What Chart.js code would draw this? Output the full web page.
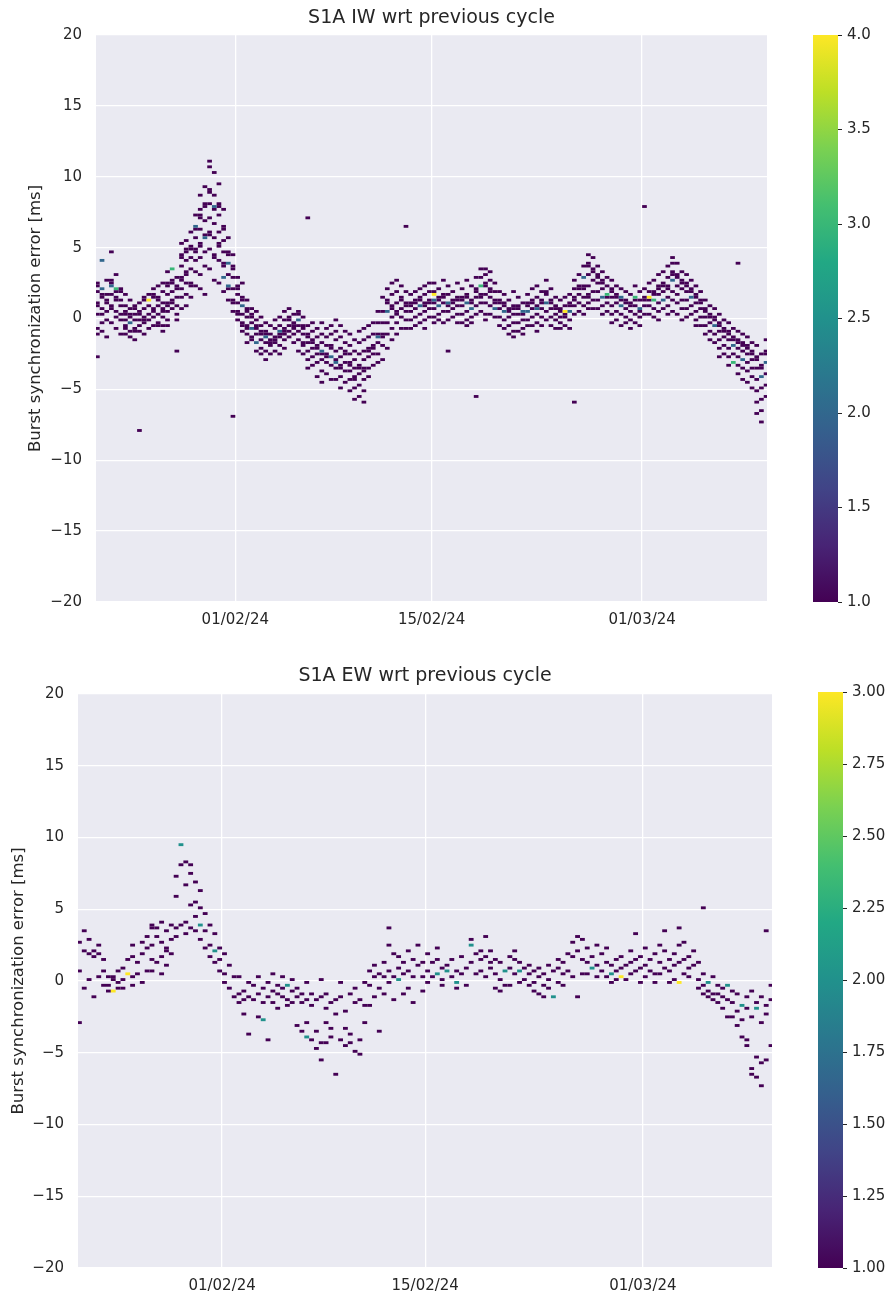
<!DOCTYPE html>
<html>
<head>
<meta charset="utf-8">
<script src="https://cdn.jsdelivr.net/npm/chart.js@4.4.1/dist/chart.umd.min.js"></script>
<style>
    body { margin: 0; background: #ffffff; width: 893px; height: 1297px; position: relative; overflow: hidden; }
    canvas { position: absolute; }
</style>
</head>
<body>
<canvas id="iw-canvas" width="800" height="650" style="left:0;top:0"></canvas>
<canvas id="iw-bar" width="93" height="650" style="left:800px;top:0"></canvas>
<canvas id="ew-canvas" width="800" height="647" style="left:0;top:650px"></canvas>
<canvas id="ew-bar" width="93" height="647" style="left:800px;top:650px"></canvas>
<script>
// x axis: days counted from 01/02/24
const dayTicks = [0, 14, 29]
const dayTickLabels = ["01/02/24", "15/02/24", "01/03/24"]
const dayMin = -9.93
const dayMax = 37.9
// three passes a day (fraction of the day)
const passOffsets = [0.17, 0.5, 0.83]
const binDays = 1 / 3
const binMs = 0.2
const errorTicks = [-20, -15, -10, -5, 0, 5, 10, 15, 20]

// IW: one row per day starting at day -10, three passes per row, values in ms
const iwFirstDay = -10
const iwErrors = [
    [[2.4,2.2,1.8,1.0,0.8,0.2,-0.8,-1.2,-2.8],[4.0,4.0,2.0,2.0,1.6,1.4,0.6,0.2,-0.4,-1.0],[2.6,1.6,1.2,1.0,0.4,-0.2,-1.4]],
    [[4.6,2.6,2.4,2.2,2.2,1.6,0.8,0.6,-0.4],[3.0,2.0,2.0,2.0,1.8,1.4,1.2,0.4,0.0,-0.8],[2.0,1.8,1.2,0.8,0.2,-0.2,-1.2]],
    [[1.6,0.8,0.4,0.2,-0.2,-0.6,-0.8,-1.2],[1.2,0.6,0.2,0.0,-0.4,-0.4,-1.0,-1.4],[0.8,0.6,0.2,-0.2,-0.8,-1.0,-1.6]],
    [[1.0,0.4,0.2,-0.2,-0.6,-1.0,-7.9],[1.4,1.2,0.6,0.0,-0.2,-0.4,-1.2],[1.6,1.2,1.2,1.2,1.2,0.8,0.2,-0.2,-0.8]],
    [[2.0,1.6,1.4,0.6,0.4,0.0,-0.6],[2.2,1.4,1.2,0.8,0.2,-0.4,-0.6],[2.4,1.8,1.0,0.6,0.4,0.0,-0.6,-1.0]],
    [[3.2,2.4,2.2,1.6,1.0,0.8,0.4,-0.2,-0.6],[3.4,3.4,3.4,2.6,2.4,1.8,1.2,1.0,0.6],[2.8,2.2,2.0,1.4,0.8,0.2,-0.2,-2.4]],
    [[5.2,4.4,4.2,3.6,2.8,2.6,2.0,1.4,0.6],[5.4,4.8,4.6,4.0,3.2,3.0,2.4,1.6,0.8],[6.0,5.0,4.8,4.2,3.4,2.4,2.2,1.4]],
    [[7.2,6.4,6.4,6.2,5.6,4.8,4.6,4.0,3.2,2.2],[8.6,7.6,7.2,7.0,6.2,5.2,5.0,4.2,3.0,2.0],[9.2,8.0,7.8,6.8,5.8,5.6,5.6,4.6,3.6,1.6]],
    [[11.0,10.6,9.0,8.8,8.0,7.0,6.0,5.8,4.8,3.4],[10.2,8.6,7.8,7.8,7.6,6.6,5.6,4.4,4.2,2.6],[9.4,8.0,7.8,7.2,6.0,5.2,5.0,4.0,2.4]],
    [[7.6,6.4,6.2,5.4,4.6,3.8,3.6,2.8,2.8,1.8],[5.6,4.6,4.4,3.8,3.8,3.0,2.2,2.2,2.0,1.2],[4.4,3.6,3.4,2.8,2.0,1.2,1.0,0.4,-7.0]],
    [[2.8,2.2,2.0,1.6,1.0,0.4,0.2,-0.2],[2.4,1.4,1.2,0.8,0.8,0.2,-0.4,-0.6,-1.0],[1.2,0.6,0.4,0.0,-0.6,-0.8,-1.2,-1.8]],
    [[0.6,0.2,0.0,-0.4,-0.8,-0.8,-1.4,-1.6],[0.4,-0.2,-0.6,-0.8,-1.2,-1.8,-1.8,-2.4],[0.0,-0.6,-1.0,-1.2,-1.6,-2.2,-2.6]],
    [[-0.4,-1.0,-1.2,-1.4,-1.4,-1.8,-2.4,-3.0],[-0.6,-1.2,-1.6,-1.8,-2.0,-2.6],[-0.2,-0.8,-1.4,-1.6,-1.8,-2.4]],
    [[0.0,-0.6,-1.0,-1.0,-1.2,-1.4,-2.0,-2.6],[0.4,-0.2,-0.8,-1.0,-1.2,-1.6,-2.2],[0.6,0.0,-0.2,-0.6,-1.0,-1.4]],
    [[0.2,-0.4,-0.6,-0.8,-1.2,-1.8],[0.4,0.2,-0.2,-0.2,-0.6,-1.0,-1.6,-2.4],[0.0,-0.6,-0.8,-1.2,-1.8,-2.0,-2.6]],
    [[7.1,-0.6,-1.2,-1.4,-1.8,-2.4,-3.0,-3.6],[-0.4,-1.0,-1.6,-1.8,-2.2,-2.8,-3.4],[-0.8,-1.4,-2.0,-2.2,-2.6,-3.2,-4.2]],
    [[-0.4,-1.2,-1.8,-2.4,-2.4,-2.6,-3.0,-3.8,-4.6],[-0.8,-1.4,-2.0,-2.6,-2.8,-3.2,-4.0],[-0.6,-1.2,-2.0,-2.2,-2.8,-2.8,-3.4,-4.4]],
    [[-0.2,-1.0,-1.6,-2.4,-3.0,-3.2,-3.2,-3.6,-4.4],[-0.6,-1.4,-2.2,-2.8,-3.4,-3.6,-4.2,-5.0],[-1.0,-1.8,-2.4,-2.6,-3.2,-3.8,-4.6]],
    [[-1.2,-2.0,-2.6,-3.2,-3.4,-3.8,-4.4,-5.2],[-1.6,-2.4,-3.0,-3.6,-4.2,-4.4,-5.0,-5.8],[-1.0,-1.8,-2.6,-3.4,-3.6,-4.0,-4.8,-5.6]],
    [[-0.8,-1.6,-2.4,-3.0,-3.6,-3.8,-4.4,-5.2,-6.0],[-0.6,-1.4,-2.2,-2.4,-2.8,-3.6,-4.2],[-0.4,-1.2,-2.0,-2.2,-2.6,-3.4]],
    [[0.4,-0.4,-1.2,-1.4,-1.4,-1.8,-2.6,-3.2],[1.4,0.4,-0.4,-1.2,-1.4,-2.0,-3.0],[2.0,1.2,1.0,0.4,0.4,-0.4,-1.2,-2.2]],
    [[2.4,1.6,0.8,0.6,0.0,-0.8,-1.6],[2.6,1.8,1.0,0.4,0.2,-0.4,-1.2],[2.2,1.4,1.2,0.6,0.0,-0.8]],
    [[6.4,1.8,1.0,0.8,0.4,-0.2,-0.8],[1.6,1.0,0.8,0.4,-0.2,-0.8],[1.8,1.2,1.0,0.6,0.0,-0.6]],
    [[2.0,1.4,1.2,0.8,0.8,0.2,-0.4],[2.2,1.6,1.0,0.8,0.4,-0.2,-0.8],[2.4,1.8,1.2,1.0,0.6,0.0]],
    [[2.4,1.8,1.6,1.6,1.6,1.6,1.2,1.2,1.0,0.6,0.0,-0.4],[2.0,1.4,1.2,0.8,0.8,0.2,-0.2],[2.6,1.6,1.4,1.0,0.4,-0.4]],
    [[2.2,1.6,1.0,1.0,0.8,0.4,-0.2,-2.4],[1.8,1.2,1.0,0.6,0.0],[2.4,1.4,1.2,0.8,0.2,-0.4]],
    [[2.0,1.4,1.2,0.8,0.2,-0.4],[2.6,1.6,1.4,1.0,1.0,0.4,-0.2,-0.6],[2.2,1.2,1.0,0.6,0.6,0.0,-0.4]],
    [[2.8,2.0,1.8,1.4,0.8,0.2,-5.6],[3.4,2.8,2.2,2.2,2.2,1.6,1.4,1.0,0.4],[3.4,3.0,2.4,2.2,1.6,1.0,0.2,-0.2]],
    [[3.2,2.6,2.0,1.8,1.4,0.8,0.2],[2.4,1.8,1.2,1.0,0.6,0.6,0.0],[1.8,1.2,1.0,0.6,0.0,-0.6]],
    [[1.6,1.0,0.8,0.4,0.4,-0.2,-0.8],[1.2,0.6,0.4,0.0,-0.6,-1.2],[1.8,0.8,0.6,0.2,-0.4,-1.0,-1.4]],
    [[1.4,0.8,0.6,0.2,-0.4,-1.0],[1.0,0.4,0.4,0.2,-0.2,-0.8,-1.2],[1.6,1.0,0.8,0.4,0.4,-0.2,-0.6]],
    [[2.0,1.2,1.0,0.6,0.0,-0.6],[2.2,1.4,0.8,0.6,0.6,0.2,-0.4,-1.0],[1.8,1.2,1.0,0.6,0.0,-0.6]],
    [[2.6,1.8,1.6,1.0,1.0,0.4,-0.2],[2.0,1.2,1.0,0.6,0.0,-0.6],[1.4,0.8,0.6,0.2,-0.2,-0.8]],
    [[1.2,0.6,0.4,0.0,-0.4,-0.8],[1.4,0.8,0.4,0.4,0.4,0.4,0.2,0.0,-0.6],[1.6,1.0,0.8,0.4,0.4,-0.2,-0.8]],
    [[2.6,2.0,1.4,1.2,0.8,0.2,-6.0],[3.0,2.2,2.0,1.6,1.0,0.4],[3.6,2.8,2.8,2.2,2.0,1.4,0.8,0.2]],
    [[4.4,3.8,3.6,3.0,2.2,1.6,1.4,1.0,0.6],[4.2,3.4,3.2,2.6,1.8,1.2,0.6],[3.6,3.0,2.8,2.4,1.8,1.2,0.6]],
    [[3.2,2.6,2.4,2.0,1.4,1.4,0.8,0.2],[2.8,2.2,1.6,1.6,1.6,1.4,1.0,0.4],[2.6,2.0,1.8,1.4,0.8,0.2,-0.4]],
    [[2.2,1.6,1.4,1.0,0.4,-0.2],[2.0,1.4,1.4,1.2,0.8,0.8,0.2,-0.6],[1.8,1.2,1.0,0.6,0.0,-0.4]],
    [[1.6,1.0,0.8,0.4,-0.2,-0.8],[2.2,1.4,1.4,1.4,1.2,0.8,0.2,-0.4],[1.8,1.2,0.6,0.6,0.4,0.0,-0.6]],
    [[7.9,2.0,1.4,1.2,0.8,0.2],[2.4,1.8,1.4,1.4,1.4,1.4,1.2,0.8,0.2],[2.6,1.8,1.6,1.2,1.2,1.2,0.6,0.0]],
    [[3.0,2.2,2.0,1.6,1.0,0.4,-0.2],[3.2,2.4,2.2,1.8,1.2,1.2,0.6],[3.6,2.8,2.2,2.0,1.4,0.8,0.2]],
    [[4.2,3.8,3.2,3.0,2.6,2.6,1.8,1.2,0.4],[3.8,3.0,2.8,2.2,1.6,1.0,0.2],[3.2,2.6,2.4,2.0,1.2,0.6,-0.2]],
    [[3.0,2.4,2.2,1.8,1.2,0.6,0.0],[2.6,2.0,1.8,1.4,1.4,0.8,0.2],[2.2,1.6,1.4,1.0,0.4,-0.2,-0.6]],
    [[1.8,1.2,1.0,0.6,0.0,-0.6],[1.2,0.6,0.4,0.0,-0.6,-1.2],[0.8,0.2,0.0,-0.4,-1.0,-1.6]],
    [[0.6,0.0,-0.2,-0.6,-0.6,-1.2,-1.8],[0.2,-0.4,-0.6,-1.0,-1.6,-2.2,-2.8],[-0.2,-0.8,-1.0,-1.4,-2.0,-2.6]],
    [[-0.4,-1.0,-1.2,-1.6,-2.2,-2.8,-3.4],[-0.8,-1.4,-1.6,-2.0,-2.0,-2.6,-3.2,-3.2,-3.2],[3.8,-1.0,-1.6,-1.8,-2.2,-2.8,-3.4,-4.0]],
    [[-1.2,-1.8,-2.0,-2.4,-3.0,-3.0,-3.6,-4.4],[-1.4,-2.0,-2.2,-2.6,-3.2,-3.8,-4.6],[-1.8,-2.4,-2.6,-3.0,-3.6,-4.2,-5.0]],
    [[-2.0,-2.8,-3.0,-3.6,-4.4,-5.2,-6.0,-6.8],[-2.6,-3.4,-3.6,-4.2,-4.2,-5.0,-5.8,-6.6,-7.4],[-1.6,-2.4,-2.6,-3.2,-3.2,-4.0,-4.8,-5.6]]
]

// EW: same layout
const ewFirstDay = -10
const ewErrors = [
    [[2.6,0.6,-3.0],[3.4,2.0,-0.6],[2.8,1.8,0.0]],
    [[2.0,1.6,-1.2],[2.4,1.8,0.2],[1.4,0.6,-0.4]],
    [[0.2,-0.4,-0.8],[0.2,0.0,-0.8,-0.8,-0.8],[0.6,-0.2,-0.6]],
    [[0.8,0.0,-0.6],[1.4,0.4,0.4,0.4],[2.4,1.6,0.2,-0.4]],
    [[1.2,0.4],[2.6,1.8,-0.2],[3.0,2.2,0.6]],
    [[3.8,3.6,2.4,1.4,0.6],[3.6,3.0,1.2],[4.0,2.6,1.6,0.4]],
    [[3.4,2.2,2.0,1.0],[3.8,2.8,1.8],[7.2,5.8,3.6,3.0]],
    [[9.4,9.4,8.0,3.8],[8.2,6.6,4.0,3.2],[8.0,7.4,5.2,3.6]],
    [[6.8,5.4,4.4,3.4],[6.2,5.0,3.8,3.8,2.8],[4.6,3.4,2.2]],
    [[3.8,2.4,1.6],[3.2,2.0,2.0,1.2],[2.2,1.4,0.6]],
    [[1.8,0.4,-0.2],[1.0,-0.6],[0.2,-1.2]],
    [[0.2,-1.0,-1.6],[-0.8,-1.4,-2.4],[-0.2,-1.2,-3.8]],
    [[-0.4,-1.4],[0.2,-1.0,-2.6],[-0.6,-1.6,-2.8,-2.8]],
    [[-0.2,-1.2,-4.2],[0.4,-0.8,-1.6],[-0.4,-1.0,-2.0]],
    [[0.2,-0.6,-1.2],[-0.4,-0.4,-1.4,-1.8],[0.0,-0.8,-1.6]],
    [[-0.6,-1.2,-3.2],[-1.0,-1.6,-3.6],[-0.2,-1.4,-3.0,-4.0,-4.0]],
    [[-1.0,-1.8,-4.2],[-1.4,-3.6,-4.8],[0.0,-1.2,-4.4,-5.6]],
    [[-1.0,-2.0,-3.0,-4.4],[-1.6,-3.4,-4.0],[-1.4,-2.4,-6.6]],
    [[-0.2,-1.2,-4.2],[-2.2,-3.4,-4.6],[-1.0,-3.8,-4.4]],
    [[-0.6,-1.6,-5.0],[-1.4,-4.2,-5.2],[-0.2,-1.8,-3.0]],
    [[0.6,-0.4,-1.8],[1.0,0.2,-1.2],[0.4,-0.6,-3.6]],
    [[1.2,0.2,-1.0],[3.6,2.4,0.6,-0.2],[1.8,0.2,-1.4]],
    [[1.6,0.8,0.0,0.0],[1.2,0.4,-1.0],[2.0,0.6,-0.6]],
    [[1.4,0.2,-1.6],[2.4,1.0],[1.2,0.2,-0.8]],
    [[1.8,0.6,-0.2],[1.2,0.2],[2.2,1.4,0.4,0.4]],
    [[0.8,0.0,-0.4],[1.0,0.6,0.6],[1.4,0.2]],
    [[0.6,-0.2,-0.2,-0.6],[1.6,0.4],[0.8,-0.4]],
    [[2.8,2.4,2.4,1.2],[1.8,0.4],[2.0,1.4,0.6]],
    [[3.0,1.6,0.2],[2.0,1.2,0.8],[1.4,0.4,-0.6]],
    [[1.2,0.0,-0.8],[0.6,0.6,-0.4],[1.6,0.8,-0.4]],
    [[2.0,1.4,0.4],[1.2,0.6,0.6,-0.2],[0.8,0.0]],
    [[1.0,0.4,-0.4],[0.6,-0.2,-0.8],[0.8,0.2,-1.0]],
    [[0.4,-0.4,-1.2],[1.0,0.0,-0.6],[0.6,-1.2,-1.2]],
    [[1.4,0.8,-0.2],[1.2,0.4,-0.4],[1.8,0.6]],
    [[2.6,1.6,0.2],[3.0,2.0,-1.2],[2.8,1.4,0.4]],
    [[2.2,1.2,0.4],[1.6,0.8,0.8],[2.4,1.0,0.2]],
    [[1.8,0.6],[2.2,1.2,0.2],[1.0,0.4,0.4,-0.2]],
    [[1.4,0.6,0.0],[1.6,0.8,0.2,0.2,0.2],[1.0,0.0]],
    [[2.0,1.2,0.4],[3.2,1.4,0.6],[1.6,0.8,-0.2]],
    [[2.2,1.0,0.2],[1.4,0.6],[1.8,0.4,-0.2]],
    [[2.4,1.2,0.4],[3.4,2.0,0.8],[1.4,0.6,-0.2]],
    [[1.8,1.0,0.0],[3.6,2.4,1.2,-0.2,-0.2,-0.2],[2.6,1.4,0.4]],
    [[1.6,0.8,0.2],[2.0,1.0],[1.2,0.0,-0.6]],
    [[5.1,0.4,-0.4,-1.0],[-0.2,-0.2,-0.8,-1.2],[0.2,-1.0,-1.4]],
    [[-0.4,-1.0,-1.6],[-0.6,-1.2,-2.0],[-0.4,-0.4,-1.4,-2.6]],
    [[-0.8,-1.6,-2.6],[-1.0,-2.2,-3.2],[-1.8,-1.8,-2.8,-4.0]],
    [[-1.2,-2.0,-4.2,-4.6],[-0.8,-2.6,-6.2,-6.6],[-1.6,-2.0,-2.0,-5.4,-6.8]],
    [[-1.2,-3.0,-5.8,-7.4],[3.4,-1.8,-2.4,-5.6],[-0.4,-1.4,-4.6]]
]

const viridis = ["#440154", "#482475", "#414487", "#355f8d", "#2a788e", "#21918c",
    "#22a884", "#44bf70", "#7ad151", "#bddf26", "#fde725"]

function viridisAt(t){
    const pos = Math.max(0, Math.min(1, t)) * (viridis.length - 1)
    const i = Math.min(Math.floor(pos), viridis.length - 2)
    const f = pos - i
    const a = parseInt(viridis[i].slice(1), 16), b = parseInt(viridis[i + 1].slice(1), 16)
    const mix = function(shift){
        return Math.round(((a >> shift) & 255) * (1 - f) + ((b >> shift) & 255) * f)
    }
    return "rgb(" + mix(16) + "," + mix(8) + "," + mix(0) + ")"
}

function getCells(firstDay, errors){
    let counts = {}
    errors.forEach(function(day, i){
        day.forEach(function(pass, k){
            pass.forEach(function(value){
                const t = firstDay + i + passOffsets[k]
                const bx = Math.floor((t - firstDay) / binDays + 1e-6)
                const by = Math.floor((value + 20) / binMs + 1e-6)
                const key = bx + "_" + by
                counts[key] = (counts[key] || 0) + 1
            })
        })
    })
    let cells = []
    Object.keys(counts).forEach(function(key){
        const parts = key.split("_")
        cells.push({
            x: firstDay + (Number(parts[0]) + 0.5) * binDays,
            y: -20 + (Number(parts[1]) + 0.5) * binMs,
            count: counts[key]
        })
    })
    return cells
}

const cellPlugin = {
    id: "cells",
    beforeDraw(chart){
        const a = chart.chartArea
        chart.ctx.save()
        chart.ctx.fillStyle = "#eaeaf2"
        chart.ctx.fillRect(a.left, a.top, a.right - a.left, a.bottom - a.top)
        chart.ctx.restore()
    },
    afterDatasetsDraw(chart){
        const ctx = chart.ctx
        const xs = chart.scales.x, ys = chart.scales.y
        const a = chart.chartArea
        ctx.save()
        ctx.beginPath()
        ctx.rect(a.left, a.top, a.right - a.left, a.bottom - a.top)
        ctx.clip()
        chart.data.datasets.forEach(function(ds){
            ctx.fillStyle = ds.backgroundColor
            ds.data.forEach(function(p){
                const x0 = xs.getPixelForValue(p.x - binDays / 2)
                const x1 = xs.getPixelForValue(p.x + binDays / 2)
                const y0 = ys.getPixelForValue(p.y + binMs / 2)
                const y1 = ys.getPixelForValue(p.y - binMs / 2)
                ctx.fillRect(x0, y0, x1 - x0, y1 - y0)
            })
        })
        ctx.restore()
    },
    afterDraw(chart, args, opts){
        const a = chart.chartArea
        const ctx = chart.ctx
        ctx.save()
        ctx.font = "19px 'DejaVu Sans'"
        ctx.fillStyle = "#262626"
        ctx.textAlign = "center"
        ctx.textBaseline = "middle"
        ctx.fillText(opts.title, (a.left + a.right) / 2, a.top - opts.titleGap)
        ctx.restore()
    }
}

const gradientPlugin = {
    id: "gradient",
    beforeDraw(chart){
        const a = chart.chartArea
        const ctx = chart.ctx
        const g = ctx.createLinearGradient(0, a.bottom, 0, a.top)
        viridis.forEach(function(c, i){ g.addColorStop(i / (viridis.length - 1), c) })
        ctx.save()
        ctx.fillStyle = g
        ctx.fillRect(a.left, a.top, a.right - a.left, a.bottom - a.top)
        ctx.restore()
    }
}

function minusLabel(v){
    return v < 0 ? "\u2212" + Math.abs(v) : String(v)
}

function getPanel(canvas, title, firstDay, errors, box){
    const cells = getCells(firstDay, errors)
    const maxCount = Math.max.apply(null, cells.map(function(c){ return c.count }))
    let datasets = []
    for (let c = 1; c <= maxCount; c++){
        datasets.push({
            label: c,
            data: cells.filter(function(p){ return p.count == c }),
            backgroundColor: viridisAt((c - 1) / (maxCount - 1)),
            pointRadius: 0,
            pointHoverRadius: 0
        })
    }
    new Chart(canvas, {
        type: "scatter",
        data: { datasets: datasets },
        options: {
            responsive: false,
            animation: false,
            layout: { padding: { left: 0, right: box.right, top: box.top, bottom: 0 } },
            plugins: {
                legend: { display: false },
                tooltip: { enabled: false },
                cells: { title: title, titleGap: box.titleGap }
            },
            scales: {
                x: {
                    type: "linear",
                    min: dayMin,
                    max: dayMax,
                    afterBuildTicks: function(s){ s.ticks = dayTicks.map(function(v){ return { value: v } }) },
                    ticks: {
                        autoSkip: false,
                        maxRotation: 0,
                        padding: 9,
                        color: "#262626",
                        font: { family: "DejaVu Sans", size: 15 },
                        callback: function(v){ return dayTickLabels[dayTicks.indexOf(v)] }
                    },
                    grid: { color: "#ffffff", lineWidth: 1.3, drawTicks: false },
                    border: { display: false },
                    afterFit: function(s){ s.height = box.xAxisHeight }
                },
                y: {
                    min: -20,
                    max: 20,
                    afterBuildTicks: function(s){ s.ticks = errorTicks.map(function(v){ return { value: v } }) },
                    ticks: {
                        padding: 14,
                        color: "#262626",
                        font: { family: "DejaVu Sans", size: 15 },
                        callback: minusLabel
                    },
                    grid: { color: "#ffffff", lineWidth: 1.3, drawTicks: false },
                    border: { display: false },
                    title: {
                        display: true,
                        text: "Burst synchronization error [ms]",
                        color: "#262626",
                        font: { family: "DejaVu Sans", size: 16.5 },
                        padding: { top: box.labelPad, bottom: 0 }
                    },
                    afterFit: function(s){ s.width = box.yAxisWidth }
                }
            }
        },
        plugins: [cellPlugin]
    })
    return maxCount
}

function getColourbar(canvas, maxCount, barTicks, decimals, box){
    new Chart(canvas, {
        type: "scatter",
        data: { datasets: [] },
        options: {
            responsive: false,
            animation: false,
            layout: { padding: { left: box.left, right: 0, top: box.top, bottom: box.bottom } },
            plugins: { legend: { display: false }, tooltip: { enabled: false } },
            scales: {
                x: { display: false },
                y: {
                    position: "right",
                    min: 1,
                    max: maxCount,
                    afterBuildTicks: function(s){ s.ticks = barTicks.map(function(v){ return { value: v } }) },
                    ticks: {
                        padding: 5,
                        color: "#262626",
                        font: { family: "DejaVu Sans", size: 15 },
                        callback: function(v){ return v.toFixed(decimals) }
                    },
                    grid: { drawOnChartArea: false, drawTicks: true, tickLength: 4, color: "#262626", lineWidth: 1 },
                    border: { display: false },
                    afterFit: function(s){ s.width = box.axisWidth }
                }
            }
        },
        plugins: [gradientPlugin]
    })
}

const iwBarTicks = [1.0, 1.5, 2.0, 2.5, 3.0, 3.5, 4.0]
const ewBarTicks = [1.0, 1.25, 1.5, 1.75, 2.0, 2.25, 2.5, 2.75, 3.0]

const iwMax = getPanel(document.getElementById("iw-canvas"), "S1A IW wrt previous cycle", iwFirstDay, iwErrors,
    { right: 33, top: 35, xAxisHeight: 48, yAxisWidth: 96, labelPad: 26, titleGap: 17 })
getColourbar(document.getElementById("iw-bar"), iwMax, iwBarTicks, 1,
    { left: 13, top: 35, bottom: 48, axisWidth: 55 })

const ewMax = getPanel(document.getElementById("ew-canvas"), "S1A EW wrt previous cycle", ewFirstDay, ewErrors,
    { right: 28, top: 44, xAxisHeight: 29, yAxisWidth: 78, labelPad: 9, titleGap: 18 })
getColourbar(document.getElementById("ew-bar"), ewMax, ewBarTicks, 2,
    { left: 18, top: 42, bottom: 29, axisWidth: 50 })
</script>
</body>
</html>
